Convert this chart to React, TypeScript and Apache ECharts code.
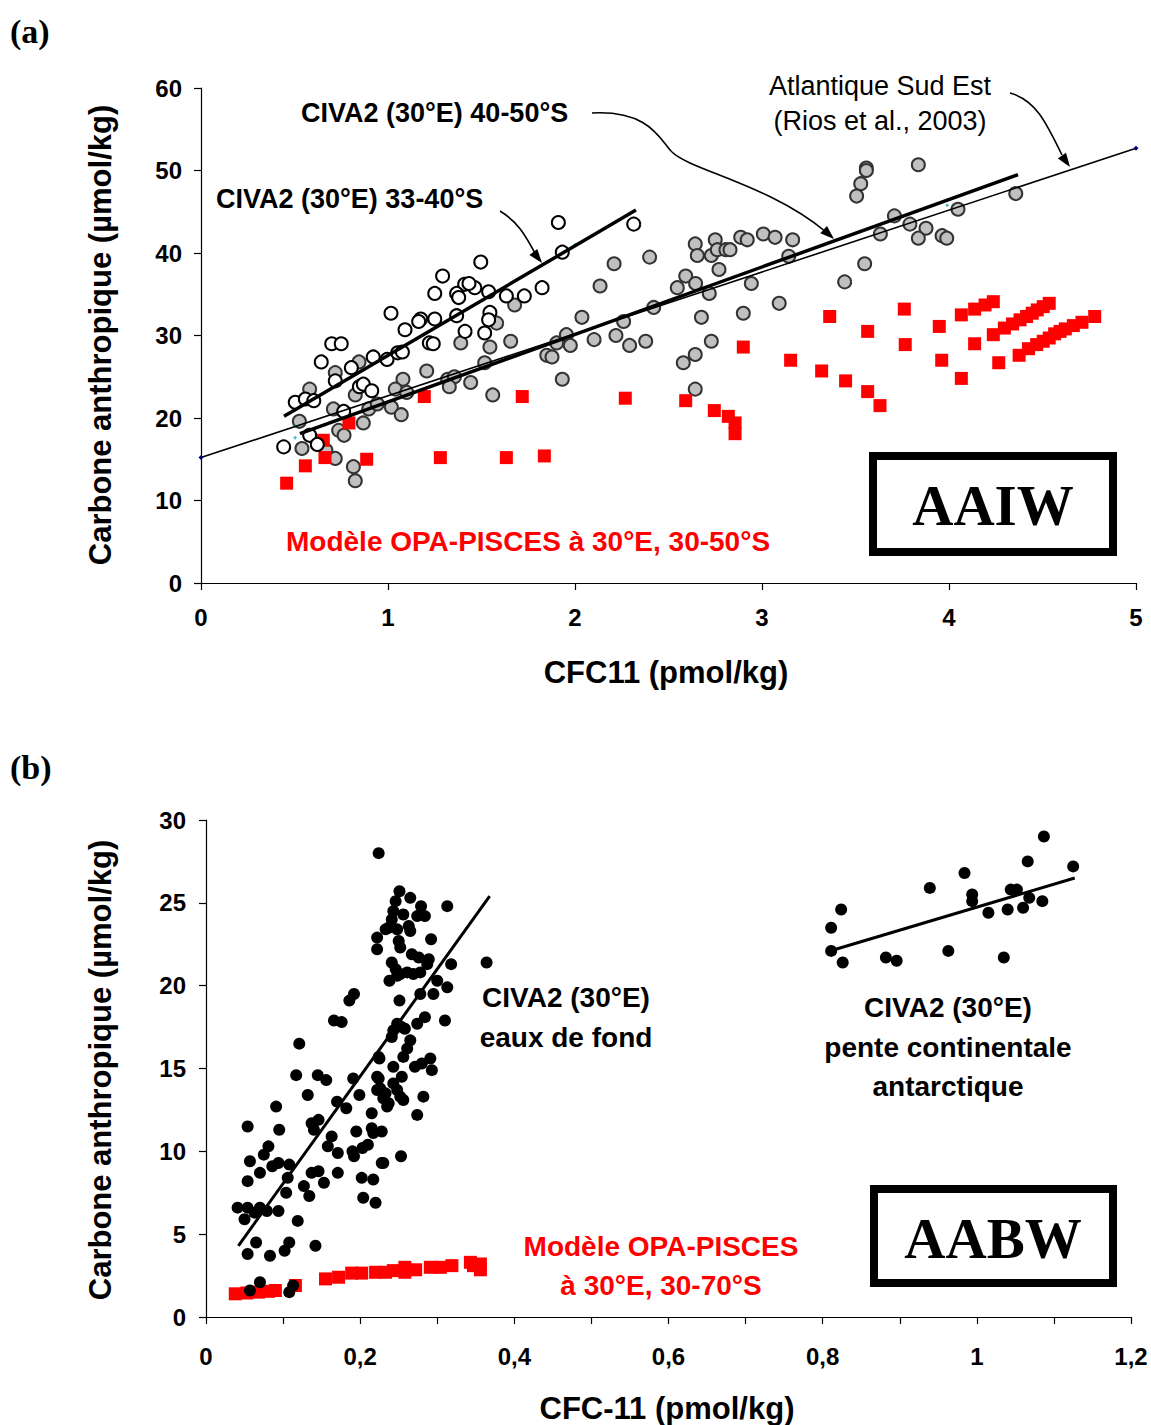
import React, { useEffect, useRef } from "react";
import * as echarts from "echarts";

// ---------- Panel (a) data ----------
const civa33_40: [number, number][] = [
  [1.496, 38.9], [1.292, 37.2], [1.41, 36.2], [1.464, 35.8], [1.433, 36.3], [1.25, 35.1], [1.367, 35.1], [1.378, 34.6],
  [1.538, 35.3], [1.633, 34.8], [1.729, 34.8], [1.016, 32.7], [1.175, 32.0], [1.164, 31.7], [1.25, 32.0], [1.367, 32.4],
  [1.545, 32.8], [1.538, 31.9], [1.091, 30.7], [1.412, 30.5], [1.517, 30.3], [0.699, 29.0], [0.75, 29.0], [1.221, 29.1],
  [1.242, 29.0], [0.643, 26.8], [0.804, 26.1], [0.921, 27.4], [0.995, 27.1], [1.052, 27.9], [1.077, 28.0], [0.718, 24.5],
  [0.847, 23.8], [0.868, 24.1], [0.913, 23.3], [0.504, 21.9], [0.558, 22.3], [0.603, 22.1], [0.763, 20.8], [0.581, 17.9],
  [0.622, 16.8], [0.442, 16.5], [1.911, 43.7], [2.314, 43.5], [1.932, 40.1], [1.824, 35.8],
];

const civa40_50: [number, number][] = [
  [1.677, 33.7], [1.581, 31.5], [1.389, 29.1], [1.545, 28.6], [1.656, 29.3], [0.845, 26.8], [0.718, 25.5], [0.581, 23.5],
  [0.825, 22.8], [1.08, 24.7], [1.207, 25.7], [1.039, 23.5], [1.1, 23.1], [1.319, 24.7], [1.355, 25.0], [1.328, 23.8],
  [1.442, 24.3], [1.517, 26.7], [1.56, 22.8], [0.708, 21.1], [0.897, 21.1], [0.943, 21.7], [1.018, 21.3], [1.071, 20.4],
  [0.868, 19.4], [0.526, 19.6], [0.736, 18.5], [0.765, 17.9], [0.54, 16.3], [0.668, 16.1], [0.718, 15.1], [0.815, 14.1],
  [0.825, 12.4], [2.643, 41.1], [2.75, 41.6], [2.654, 39.7], [2.729, 39.7], [2.761, 40.4], [2.807, 40.4], [2.829, 40.4],
  [2.886, 41.9], [2.921, 41.6], [3.007, 42.3], [3.07, 41.9], [3.164, 41.6], [3.143, 39.6], [2.77, 38.0], [2.943, 36.3],
  [2.592, 37.2], [2.645, 36.3], [2.547, 35.8], [2.718, 35.1], [2.399, 39.5], [2.209, 38.7], [2.134, 36.0], [2.037, 32.2],
  [2.421, 33.4], [2.676, 32.2], [2.9, 32.7], [3.092, 33.9], [1.954, 30.1], [1.902, 29.1], [1.975, 28.8], [2.102, 29.5],
  [2.219, 30.0], [2.292, 28.8], [2.378, 29.3], [2.26, 31.7], [1.849, 27.6], [1.877, 27.4], [1.932, 24.7], [2.643, 27.7],
  [2.579, 26.7], [2.729, 29.3], [2.643, 23.5], [3.558, 50.3], [3.558, 50.0], [3.836, 50.7], [3.528, 48.4], [3.506, 46.9],
  [4.357, 47.2], [4.048, 45.3], [3.708, 44.5], [3.791, 43.5], [3.877, 43.0], [3.633, 42.3], [3.836, 41.8], [3.963, 42.1],
  [3.988, 41.8], [3.549, 38.7], [3.442, 36.5],
];

const modelA: [number, number][] = [
  [1.194, 22.6], [1.718, 22.6], [0.791, 19.4], [0.654, 17.3], [0.663, 15.2], [0.558, 14.2], [0.886, 15.0], [1.28, 15.2],
  [1.633, 15.2], [0.458, 12.1], [2.269, 22.4], [2.592, 22.1], [2.745, 20.9], [2.82, 20.2], [2.856, 19.4], [2.856, 18.1],
  [2.9, 28.6], [3.153, 27.0], [1.836, 15.4], [3.362, 32.3], [3.565, 30.5], [3.761, 33.2], [3.766, 28.9], [3.948, 31.1],
  [3.961, 27.0], [4.066, 32.5], [4.137, 29.0], [4.066, 24.8], [3.319, 25.7], [3.447, 24.5], [3.565, 23.2], [3.631, 21.5],
  [4.137, 33.2], [4.193, 33.7], [4.237, 34.1], [4.237, 30.1], [4.296, 30.9], [4.34, 31.4], [4.38, 31.9], [4.415, 32.3],
  [4.445, 32.7], [4.472, 33.1], [4.504, 33.5], [4.536, 33.9], [4.266, 26.7], [4.375, 27.6], [4.425, 28.4], [4.469, 28.9],
  [4.504, 29.3], [4.536, 29.7], [4.565, 30.2], [4.594, 30.5], [4.622, 30.8], [4.665, 31.2], [4.711, 31.6], [4.779, 32.3],
];

const fit33_40: [number, number][] = [[0.444, 20.2], [2.326, 45.2]];
const fit40_50: [number, number][] = [[0.529, 18.1], [4.369, 49.5]];
const riosLine: [number, number][] = [[0, 15.2], [5, 52.7]];
const cyanMarks: [number, number][] = [[0.503, 21.0], [0.503, 19.0], [0.503, 17.6], [2.0, 41.0], [3.99, 45.8]];

// ---------- Panel (b) data ----------
const bottomWater: [number, number][] = [
  [0.224, 28.0], [0.222, 22.9], [0.222, 22.2], [0.192, 19.5], [0.186, 19.1], [0.166, 17.9], [0.176, 17.8], [0.121, 16.5],
  [0.117, 14.6], [0.145, 14.6], [0.156, 14.3], [0.191, 14.4], [0.132, 13.4], [0.17, 13.0], [0.182, 12.6], [0.199, 13.4],
  [0.091, 12.7], [0.215, 12.3], [0.137, 11.7], [0.146, 11.9], [0.14, 11.3], [0.054, 11.5], [0.095, 11.3], [0.195, 11.2],
  [0.215, 11.4], [0.217, 11.1], [0.163, 10.9], [0.158, 10.3], [0.171, 9.9], [0.081, 10.3], [0.075, 9.8], [0.19, 10.0],
  [0.192, 9.7], [0.203, 10.2], [0.21, 10.4], [0.057, 9.4], [0.07, 8.7], [0.086, 9.1], [0.094, 9.3], [0.108, 9.2],
  [0.054, 8.2], [0.106, 8.4], [0.137, 8.7], [0.146, 8.8], [0.171, 8.7], [0.153, 8.1], [0.202, 8.4], [0.217, 8.3],
  [0.104, 7.5], [0.127, 7.9], [0.134, 7.3], [0.204, 7.2], [0.22, 6.9], [0.041, 6.6], [0.054, 6.6], [0.07, 6.6],
  [0.079, 6.4], [0.063, 6.3], [0.05, 5.9], [0.094, 6.4], [0.119, 5.8], [0.065, 4.5], [0.054, 3.8], [0.083, 3.7],
  [0.102, 4.0], [0.108, 4.5], [0.142, 4.3], [0.07, 2.1], [0.057, 1.6], [0.113, 1.9], [0.108, 1.5], [0.224, 15.7],
  [0.222, 14.5], [0.222, 13.7], [0.228, 9.3], [0.251, 25.7], [0.246, 25.1], [0.265, 25.3], [0.279, 24.8], [0.284, 24.2],
  [0.274, 24.2], [0.243, 24.5], [0.241, 24.0], [0.256, 24.3], [0.263, 23.6], [0.265, 23.3], [0.313, 24.8], [0.237, 23.5],
  [0.248, 23.4], [0.233, 23.4], [0.25, 22.7], [0.252, 22.3], [0.292, 22.8], [0.267, 21.9], [0.276, 21.7], [0.289, 21.6],
  [0.287, 21.3], [0.241, 21.4], [0.246, 21.0], [0.252, 20.7], [0.261, 20.8], [0.269, 20.7], [0.278, 20.8], [0.248, 20.6],
  [0.238, 20.3], [0.318, 21.3], [0.3, 20.3], [0.313, 19.9], [0.295, 19.5], [0.278, 19.5], [0.251, 19.1], [0.284, 18.1],
  [0.274, 17.7], [0.31, 17.9], [0.248, 17.7], [0.258, 17.4], [0.254, 17.5], [0.241, 16.9], [0.243, 17.3], [0.265, 16.7],
  [0.261, 16.2], [0.256, 15.7], [0.225, 15.6], [0.291, 15.6], [0.28, 15.3], [0.271, 15.1], [0.293, 14.9], [0.243, 15.1],
  [0.224, 14.4], [0.254, 14.5], [0.243, 14.1], [0.226, 13.8], [0.233, 13.5], [0.248, 13.7], [0.252, 13.3], [0.256, 13.1],
  [0.23, 13.2], [0.237, 12.9], [0.235, 12.7], [0.282, 13.3], [0.274, 12.2], [0.228, 11.2], [0.253, 9.7], [0.23, 9.3],
  [0.364, 21.4],
];

const slopeWater: [number, number][] = [
  [0.811, 22.1], [0.811, 23.5], [0.824, 24.6], [0.826, 21.4], [0.882, 21.7], [0.896, 21.5], [0.939, 25.9], [0.963, 22.1],
  [0.984, 26.8], [0.994, 25.5], [0.994, 25.1], [1.015, 24.4], [1.035, 21.7], [1.04, 24.6], [1.044, 25.8], [1.052, 25.8],
  [1.06, 24.7], [1.068, 25.3], [1.066, 27.5], [1.085, 25.1], [1.087, 29.0], [1.125, 27.2],
];

const modelB: [number, number][] = [
  [0.038, 1.4], [0.053, 1.45], [0.068, 1.5], [0.081, 1.55], [0.09, 1.6], [0.116, 1.9], [0.155, 2.3], [0.172, 2.4],
  [0.189, 2.65], [0.202, 2.65], [0.22, 2.7], [0.233, 2.7], [0.243, 2.8], [0.258, 2.7], [0.258, 3.0], [0.272, 2.85],
  [0.291, 3.0], [0.304, 3.0], [0.319, 3.1], [0.343, 3.3], [0.347, 3.1], [0.356, 2.85], [0.356, 3.2],
];

const fitBottom: [number, number][] = [[0.042, 4.3], [0.368, 25.4]];
const fitSlope: [number, number][] = [[0.817, 22.2], [1.127, 26.5]];

const FONT = '"Liberation Sans", Arial, sans-serif';
const SERIF = '"Liberation Serif", "Times New Roman", serif';

const axisCommon = {
  axisLine: { show: true, lineStyle: { color: "#000", width: 1.2 } },
  axisTick: { show: true, inside: false, length: 7, lineStyle: { color: "#000", width: 1.2 } },
  splitLine: { show: false },
};

function txt(text: string, x: number, y: number, opts: any = {}) {
  return {
    type: "text",
    x,
    y,
    rotation: opts.rotation || 0,
    style: {
      text,
      fill: opts.fill || "#000",
      font: opts.font || `bold 27px ${FONT}`,
      textAlign: opts.align || "center",
      textVerticalAlign: "middle",
      align: opts.align || "center",
      verticalAlign: "middle",
    },
  };
}

function arrowHead(tip: [number, number], dir: [number, number]) {
  const len = Math.hypot(dir[0], dir[1]);
  const ux = dir[0] / len, uy = dir[1] / len;
  const bx = tip[0] - 14 * ux, by = tip[1] - 14 * uy;
  const px = -uy * 5, py = ux * 5;
  return {
    type: "polygon",
    shape: { points: [tip, [bx + px, by + py], [bx - px, by - py]] },
    style: { fill: "#000" },
  };
}

function curve(x1: number, y1: number, cpx1: number, cpy1: number, cpx2: number, cpy2: number, x2: number, y2: number) {
  return {
    type: "bezierCurve",
    shape: { x1, y1, cpx1, cpy1, cpx2, cpy2, x2, y2 },
    style: { stroke: "#000", lineWidth: 1.6, fill: null },
  };
}

const commaFmt = (v: number) => {
  const r = Math.round(v * 10) / 10;
  return String(r).replace(".", ",");
};

const BOLD_A = `bold 27px ${FONT}`;
const BOLD_B = `bold 28px ${FONT}`;
const TITLE = `bold 31px ${FONT}`;

const option: any = {
  animation: false,
  backgroundColor: "#fff",
  textStyle: { fontFamily: FONT },
  grid: [
    { left: 201, top: 88, width: 935, height: 495 },
    { left: 206, top: 820, width: 925, height: 497 },
  ],
  xAxis: [
    {
      type: "value", gridIndex: 0, min: 0, max: 5, interval: 1, ...axisCommon,
      axisLabel: { fontSize: 24, fontWeight: "bold", color: "#000", margin: 22, fontFamily: FONT },
    },
    {
      type: "value", gridIndex: 1, min: 0, max: 1.2, interval: 0.2, ...axisCommon,
      minorTick: { show: true, splitNumber: 2, length: 7, lineStyle: { color: "#000", width: 1.2 } },
      axisLabel: { fontSize: 24, fontWeight: "bold", color: "#000", margin: 27, fontFamily: FONT, formatter: commaFmt },
    },
  ],
  yAxis: [
    {
      type: "value", gridIndex: 0, min: 0, max: 60, interval: 10, ...axisCommon,
      axisLabel: { fontSize: 24, fontWeight: "bold", color: "#000", margin: 19, fontFamily: FONT },
    },
    {
      type: "value", gridIndex: 1, min: 0, max: 30, interval: 5, ...axisCommon,
      axisLabel: { fontSize: 24, fontWeight: "bold", color: "#000", margin: 20, fontFamily: FONT },
    },
  ],
  series: [
    {
      type: "scatter", xAxisIndex: 0, yAxisIndex: 0, data: civa40_50, symbol: "circle", symbolSize: 13,
      itemStyle: { color: "#c0c0c0", borderColor: "#333", borderWidth: 2, opacity: 1 },
    },
    {
      type: "scatter", xAxisIndex: 0, yAxisIndex: 0, data: modelA, symbol: "rect", symbolSize: 13,
      itemStyle: { color: "#ff0000", opacity: 1 },
    },
    {
      type: "scatter", xAxisIndex: 0, yAxisIndex: 0, data: civa33_40, symbol: "circle", symbolSize: 13,
      itemStyle: { color: "#fff", borderColor: "#000", borderWidth: 2, opacity: 1 },
    },
    {
      type: "line", xAxisIndex: 0, yAxisIndex: 0, data: riosLine, symbol: "diamond", symbolSize: 5, showSymbol: true,
      itemStyle: { color: "#000080" }, lineStyle: { color: "#000", width: 1.6 },
    },
    {
      type: "line", xAxisIndex: 0, yAxisIndex: 0, data: fit33_40, showSymbol: false, symbol: "none",
      lineStyle: { color: "#000", width: 3.5 },
    },
    {
      type: "line", xAxisIndex: 0, yAxisIndex: 0, data: fit40_50, showSymbol: false, symbol: "none",
      lineStyle: { color: "#000", width: 3.5 },
    },
    {
      type: "scatter", xAxisIndex: 0, yAxisIndex: 0, data: cyanMarks, symbol: "diamond", symbolSize: 4,
      itemStyle: { color: "#20b0b0" },
    },
    {
      type: "scatter", xAxisIndex: 1, yAxisIndex: 1, data: modelB, symbol: "rect", symbolSize: 13,
      itemStyle: { color: "#ff0000", opacity: 1 },
    },
    {
      type: "scatter", xAxisIndex: 1, yAxisIndex: 1, data: bottomWater, symbol: "circle", symbolSize: 12,
      itemStyle: { color: "#000", opacity: 1 },
    },
    {
      type: "scatter", xAxisIndex: 1, yAxisIndex: 1, data: slopeWater, symbol: "circle", symbolSize: 12,
      itemStyle: { color: "#000", opacity: 1 },
    },
    {
      type: "line", xAxisIndex: 1, yAxisIndex: 1, data: fitBottom, showSymbol: false, symbol: "none",
      lineStyle: { color: "#000", width: 3 },
    },
    {
      type: "line", xAxisIndex: 1, yAxisIndex: 1, data: fitSlope, showSymbol: false, symbol: "none",
      lineStyle: { color: "#000", width: 3 },
    },
  ],
  graphic: [
    // panel labels
    txt("(a)", 10, 31, { font: `bold 34px ${SERIF}`, align: "left" }),
    txt("(b)", 10, 767, { font: `bold 34px ${SERIF}`, align: "left" }),
    // axis titles
    txt("Carbone anthropique (µmol/kg)", 100, 335, { rotation: Math.PI / 2, font: TITLE }),
    txt("CFC11 (pmol/kg)", 666, 672, { font: TITLE }),
    txt("Carbone anthropique (µmol/kg)", 100, 1070, { rotation: Math.PI / 2, font: TITLE }),
    txt("CFC-11 (pmol/kg)", 667, 1408, { font: TITLE }),
    // panel (a) annotations
    txt("CIVA2 (30°E) 40-50°S", 301, 113, { align: "left", font: BOLD_A }),
    txt("CIVA2 (30°E) 33-40°S", 216, 199, { align: "left", font: BOLD_A }),
    txt("Atlantique Sud Est", 880, 86, { font: `27px ${FONT}` }),
    txt("(Rios et al., 2003)", 880, 121, { font: `27px ${FONT}` }),
    txt("Modèle OPA-PISCES à 30°E, 30-50°S", 286, 541, { align: "left", fill: "#ff0000", font: `bold 28px ${FONT}` }),
    curve(592, 113, 650, 110, 660, 140, 672, 152),
    curve(672, 152, 690, 170, 770, 185, 826, 232),
    arrowHead([834, 239], [8.6, 7.8]),
    curve(500, 211, 518, 222, 525, 235, 535, 253),
    arrowHead([542, 263], [11, 14]),
    curve(1010, 93, 1035, 100, 1045, 120, 1062, 155),
    arrowHead([1070, 167], [12, 17]),
    {
      type: "rect",
      shape: { x: 873, y: 456, width: 240, height: 96 },
      style: { fill: "#fff", stroke: "#000", lineWidth: 8 },
    },
    txt("AAIW", 993, 505, { font: `bold 57px ${SERIF}` }),
    // panel (b) annotations
    txt("CIVA2 (30°E)", 566, 997, { font: BOLD_B }),
    txt("eaux de fond", 566, 1037, { font: BOLD_B }),
    txt("CIVA2 (30°E)", 948, 1007, { font: BOLD_B }),
    txt("pente continentale", 948, 1047, { font: BOLD_B }),
    txt("antarctique", 948, 1086, { font: BOLD_B }),
    txt("Modèle OPA-PISCES", 661, 1246, { fill: "#ff0000", font: BOLD_B }),
    txt("à 30°E, 30-70°S", 661, 1285, { fill: "#ff0000", font: BOLD_B }),
    {
      type: "rect",
      shape: { x: 874, y: 1189, width: 239, height: 94 },
      style: { fill: "#fff", stroke: "#000", lineWidth: 8 },
    },
    txt("AABW", 993, 1238, { font: `bold 57px ${SERIF}` }),
  ],
};

export default function App() {
  const ref = useRef<HTMLDivElement>(null);
  useEffect(() => {
    const chart = echarts.init(ref.current!, null, { renderer: "svg" });
    chart.setOption(option);
    return () => chart.dispose();
  }, []);
  return (
    <div
      ref={ref}
      style={{ position: "absolute", left: 0, top: 0, width: 1151, height: 1425, background: "#fff" }}
    />
  );
}
